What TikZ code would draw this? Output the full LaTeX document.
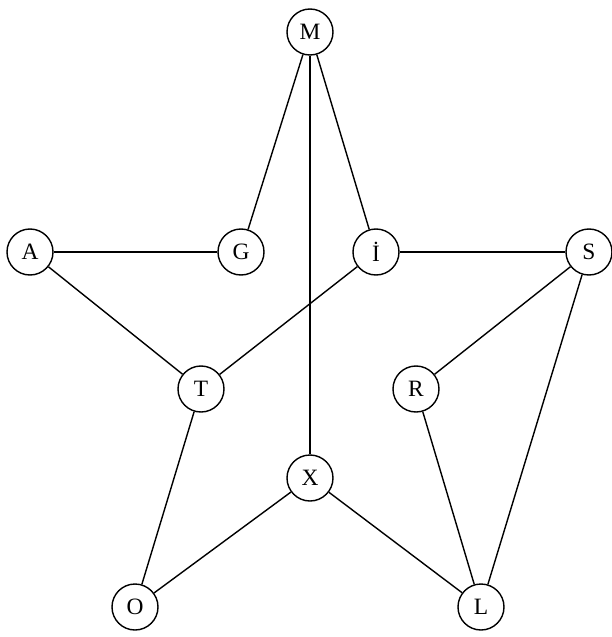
\documentclass[tikz,border=0pt]{standalone}
\usepackage{fontspec}
\setmainfont{Liberation Serif}
\usetikzlibrary{positioning}
\tikzstyle{letter} = [circle, draw=black, line width=1.2pt, fill=white, minimum size=1.38cm, inner sep=0pt, font=\fontsize{20}{22}\selectfont]
\tikzstyle{edge} = [line width=1.2pt]

\begin{document}
\begin{tikzpicture}[x=0.03cm, y=-0.03cm]
\useasboundingbox (0,0) rectangle (612,637);

% Outer points
\node (m) [letter] at (310,32) {M};
\node (a) [letter] at (30,252) {A};
\node (s) [letter] at (589,252) {S};
\node (o) [letter] at (135,607) {O};
\node (l) [letter] at (481,607) {L};

% Inner points
\node (g) [letter] at (241,252) {G};
\node (i) [letter] at (376,252) {İ};
\node (t) [letter] at (201,389) {T};
\node (r) [letter] at (416,389) {R};
\node (x) [letter] at (310,478) {X};

% Connections
\draw [edge] (m) -- (g);
\draw [edge] (m) -- (i);
\draw [edge] (m) -- (x);
\draw [edge] (a) -- (g);
\draw [edge] (i) -- (s);
\draw [edge] (a) -- (t);
\draw [edge] (i) -- (t);
\draw [edge] (s) -- (r);
\draw [edge] (s) -- (l);
\draw [edge] (r) -- (l);
\draw [edge] (t) -- (o);
\draw [edge] (x) -- (o);
\draw [edge] (x) -- (l);

\end{tikzpicture}
\end{document}
